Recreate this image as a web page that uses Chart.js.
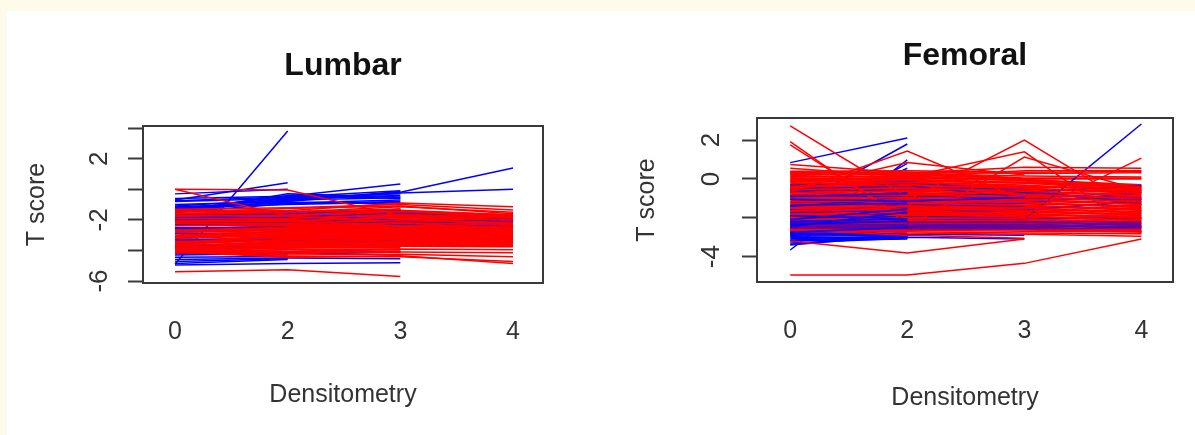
<!DOCTYPE html>
<html>
<head>
<meta charset="utf-8">
<script src="https://cdn.jsdelivr.net/npm/chart.js@4"></script>
<style>
html, body { margin: 0; padding: 0; width: 1195px; height: 435px; overflow: hidden; background: #fffbeb; }
#card { position: absolute; left: 7px; top: 11px; width: 1188px; height: 424px; background: #fff; }
canvas { position: absolute; top: 0; filter: blur(0.45px); }
#lumbar { left: 0; }
#femoral { left: 600px; }
</style>
</head>
<body>
<div id="card"></div>
<canvas id="lumbar" width="600" height="435"></canvas>
<canvas id="femoral" width="595" height="435"></canvas>
<script>
// visits are evenly spaced on the axis, whatever their label says
var positions = [0, 1, 2, 3];
var xTickLabels = ["0", "2", "3", "4"];

var lumbarYTicks = [-6, -4, -2, 0, 2, 4];
var lumbarYLabels = ["-6", "", "-2", "", "2", ""];
var femoralYTicks = [-4, -2, 0, 2];
var femoralYLabels = ["-4", "", "0", "2"];

// each row is one patient
var lumbarBlueLow = [
	[-4.9, 3.81], [-0.7, 0.43], [-0.3, 0], [-0.6, -0.45, 0.35], [-0.75, -0.5, -0.1],
	[-0.8, -0.6, -0.4], [-1, -0.8, -0.2, 1.39], [-1.1, -0.65, -0.25, 0], [-1.15, -0.9, -0.7],
	[-1.25, -0.7, -0.55], [-1.3, -0.85, -0.95], [-1.2, -1, -0.85], [-1.4, -0.4, -0.6], [-1.35, -0.55, -0.3],
	[-1.45, -0.75, -0.15], [-1.5, -0.95, -0.8], [-1.55, -0.3, -0.5],
	[-2.5, -2.6], [-2.9, -2.85], [-3.3, -3.2, -3], [-3.75, -3.6], [-4.2, -4.3], [-4.3, -4.2, -4.1],
	[-4.45, -4.4], [-4.6, -4.5, -4.55], [-4.72, -4.55], [-4.85, -4.6], [-4.95, -4.85, -4.8]
];
var lumbarRedUnder = [
	[-1.65, -1.6, -1.4, -1.7], [-1.85, -1.8, -1.55, -1.8],
	[-2, -2, -1.75, -1.95], [-2.15, -2.15, -1.95, -2.1], [-2.3, -2.3, -2.1, -2.25], [-2.62, -2.45, -2.3, -2.4],
	[-2.75, -2.6, -2.45, -2.55], [-3.02, -2.75, -2.6, -2.7], [-3.15, -2.9, -2.75, -2.85], [-3.42, -3.05, -2.9, -3],
	[-3.55, -3.2, -3.05, -3.15], [-3.85, -3.35, -3.2, -3.3], [-3.9, -3.5, -3.35, -3.45], [-4, -3.65, -3.5, -3.6],
	[-3.95, -3.75, -3.65, -3.7]
];
var lumbarBlueMid = [
	[-1.8, -1.9, -1.55, -1.95], [-1.9, -1.55, -2.05, -2.1], [-2.1, -2.2, -2.1, -2.45], [-2.3, -2.15],
	[-3.3, -3.3, -3.4], [-3.8, -3.85], [-3.95, -4.15, -4.3], [-1.6, -1.45, -1.35], [-1.75, -1.6, -1.3],
	[-2.6, -2.4], [-3.6, -3.9, -4.1], [-2, -1.85, -2.3, -1.95]
];
var lumbarRedOver = [
	[-1.58, -1.5, -1.3], [-1.75, -1.7, -1.45, -1.7], [-1.92, -1.9, -1.65, -1.88], [-2.08, -2.07, -1.85, -2.02],
	[-2.22, -2.23, -2.03, -2.18], [-2.38, -2.38, -2.2, -2.33], [-2.68, -2.52, -2.38, -2.48], [-2.82, -2.68, -2.52, -2.62],
	[-3.08, -2.82, -2.68, -2.78], [-3.22, -2.98, -2.82, -2.93], [-3.48, -3.12, -2.98, -3.08], [-3.6, -3.28, -3.12, -3.22],
	[-3.7, -3.42, -3.28, -3.38], [-3.8, -3.58, -3.42, -3.52], [-3.88, -3.72, -3.58, -3.65], [-3.98, -3.8, -3.72, -3.75],
	[-4.05, -3.82, -3.82], [-4.1, -3.95, -3.95], [-4.15, -4.1, -4.05]
];
// thin red patients that stay readable as single lines
var lumbarRedLines = [
	[0, -0.05, -1.75], [0, -1.75, -1.3], [-1.35, -1.4, -0.9, -1.15], [-1.3, -1.2, -1, -1.35], [-1.42, -1.5, -1.15, -1.5],
	[-1.5, -1.25, -1.1, -1.6], [-3.9, -4.05, -3.9, -3.95], [-3.95, -4.2, -4.1, -4.15], [-4, -4.3, -4.25, -4.42],
	[-4.05, -4.4, -4.42, -4.72], [-4.1, -4.45, -4.35, -4.85], [-5.4, -5.27, -5.7]
];

var femoralBlueLow = [
	[0.84, 2.11], [-1.55, 1.8], [-3.66, 0.98], [-2.6, 0.8], [-2.3, 0.55], [-2.9, 0.3],
	[-2.7, -2.95], [-2.75, -2.88], [-2.8, -3], [-2.85, -2.8], [-2.9, -2.85], [-2.95, -2.92], [-3, -3.05], [-3.08, -2.95],
	[-3.14, -2.98], [-3.18, -3.1], [-3.3, -3.05], [-3.36, -2.9], [-3.4, -2.9], [-3.2, -3, -3.1], [-2.6, -2.85, -2.9]
];
var femoralRedUnder = [
	[0.33, 0.32, 0.02, 0.02], [0, 0.05, -0.05, -0.32], [-0.15, -0.1, -0.2, -0.4],
	[-0.32, -0.25, -0.4, -0.5], [-0.48, -0.4, -0.55, -0.65], [-0.65, -0.55, -0.7, -0.8], [-0.8, -0.72, -0.85, -0.95],
	[-0.95, -0.88, -0.98, -1.1], [-1.1, -1.03, -1.12, -1.25], [-1.27, -1.18, -1.27, -1.4], [-1.42, -1.32, -1.42, -1.55],
	[-1.58, -1.47, -1.55, -1.7], [-1.72, -1.62, -1.7, -1.82], [-1.88, -1.78, -1.85, -1.95], [-2.02, -1.92, -2, -2.08],
	[-2.18, -2.08, -2.12, -2.2], [-2.32, -2.22, -2.25, -2.35], [-2.48, -2.35, -2.4, -2.48], [-2.62, -2.5, -2.55, -2.62]
];
var femoralBlueMid = [
	[-2.05, -1.75], [-1.8, -1.5], [-2.2, -1.9, -2.05], [-2.4, -1.6], [-1.9, -2.4, -2.5], [-0.6, -0.5, -0.45],
	[-0.85, -0.9, -1], [-1.2, -1.1, -1, -1.05], [-1.45, -0.9, -0.75, -1], [-1.9, -2, -2.1, 2.83], [-0.3, -0.15, -0.7, -0.35],
	[-0.55, -0.35, -0.95], [-1.05, -1.3, -1.25, -0.7], [-2.3, -2.15, -2.05, -2], [-1.6, -1.7, -1.6, -1.15],
	[-0.4, -0.7], [-1.75, -1.3, -1.45], [-0.7, -0.2, -0.6, -1.3]
];
var femoralRedOver = [
	[0.25, 0.22, -0.02, -0.42], [0.1, 0.15, -0.1, -0.5], [-0.08, -0.02, -0.2, -0.58], [-0.24, -0.18, -0.32, -0.66],
	[-0.4, -0.32, -0.48, -0.74], [-0.56, -0.48, -0.62, -0.88], [-0.72, -0.63, -0.78, -1.02], [-0.88, -0.8, -0.92, -1.18],
	[-1.02, -0.95, -1.05, -1.32], [-1.18, -1.1, -1.2, -1.48], [-1.35, -1.25, -1.35, -1.62], [-1.5, -1.4, -1.48, -1.76],
	[-1.65, -1.55, -1.62, -1.88], [-1.8, -1.7, -1.78, -2.02], [-1.95, -1.85, -1.92, -2.14], [-2.1, -2, -2.06, -2.28],
	[-2.25, -2.15, -2.18, -2.42], [-2.4, -2.28, -2.32, -2.55], [-2.55, -2.42, -2.48, -2.68], [-2.65, -2.58, -2.62, -2.72]
];
var femoralRedLines = [
	[2.73, -0.93], [1.92, -2.3], [1.75, -2.1], [-0.7, 1.44, -1.1], [-0.5, 0.85, 0.2],
	[-1.5, -1.1, 2, -1.65], [-0.5, 0.1, 1.4, -2.8], [-2, -2.5, 1.13, -0.6], [-1.5, -1.6, -1.85, 1.07],
	[0.75, 0.3, 0.6, 0.55], [0.55, 0.12, 0.42, 0.42], [0.4, 0.42, 0.35, 0.38], [0.3, 0.35, 0.28, 0.32],
	[0.18, 0.28, 0.15, 0.1], [-2.7, -2.65, -2.7, -2.72], [-2.72, -2.72, -2.78, -2.82], [-2.4, -2.78, -2.85, -2.95],
	[-2.6, -2.9, -3.05], [-3.2, -3.82, -3.1], [-4.95, -4.95, -4.35, -3.1]
];
var femoralBlueTop = [
	[-1.9, -2.05], [-2.2, -2.05], [-1.05, -1.15, -0.95], [-2.45, -1.7], [-0.9, -0.75], [-2.75, -2.5],
	[-2.1, -1.55], [-2.35, -2.15], [-1.35, -1.25]
];
// seen as a purple band through the lower part of the red mass
var femoralBluePurple = [
	[-2.3, -2.38, -2.35, -2.35], [-2.42, -2.46, -2.45, -2.45], [-2.52, -2.55, -2.55, -2.52], [-2.2, -2.25, -2.22, -2.25]
];

function rowsToDatasets(rows, color, width) {
	return rows.map(function(row) {
		return { data: row, borderColor: color, borderWidth: width, pointRadius: 0, tension: 0, fill: false };
	});
}

// chart.js paints the first dataset last, so reverse to keep the listed order
function buildDatasets(layers) {
	var out = [];
	layers.forEach(function(l) {
		out = out.concat(rowsToDatasets(l[0], l[1], l[2]));
	});
	return out.reverse();
}

var plotBox = {
	id: "plotBox",
	afterDatasetsDraw: function(chart) {
		var a = chart.chartArea, c = chart.ctx;
		c.save();
		c.strokeStyle = "#3a3a3a";
		c.lineWidth = 2;
		c.strokeRect(a.left, a.top, a.right - a.left, a.bottom - a.top);
		c.restore();
	}
};

function panel(id, cfg) {
	return new Chart(document.getElementById(id), {
		type: "line",
		data: { labels: positions, datasets: cfg.datasets },
		plugins: [plotBox],
		options: {
			responsive: false,
			animation: false,
			layout: { padding: { right: cfg.padRight } },
			plugins: {
				legend: { display: false },
				tooltip: { enabled: false },
				title: {
					display: true,
					text: cfg.title,
					fullSize: false,
					color: "#111",
					font: { family: "Liberation Sans", size: 32, weight: "bold" },
					padding: { top: cfg.titleTop, bottom: cfg.titleBottom }
				}
			},
			scales: {
				x: {
					type: "linear",
					min: cfg.xMin,
					max: cfg.xMax,
					afterBuildTicks: function(s) {
						s.ticks = positions.map(function(p) { return { value: p }; });
					},
					afterFit: function(s) { s.height = cfg.xHeight; },
					grid: { display: false },
					border: { display: false },
					ticks: {
						autoSkip: false, maxRotation: 0, padding: 26, color: "#333",
						font: { family: "Liberation Sans", size: 25 },
						callback: function(v) { return xTickLabels[positions.indexOf(v)]; }
					},
					title: {
						display: true, text: "Densitometry", color: "#333",
						font: { family: "Liberation Sans", size: 25 },
						padding: { top: 0, bottom: cfg.xTitleBottom }
					}
				},
				y: {
					min: cfg.yMin,
					max: cfg.yMax,
					afterBuildTicks: function(s) {
						s.ticks = cfg.yTicks.map(function(v) { return { value: v }; });
					},
					afterFit: function(s) { s.width = cfg.yWidth; },
					grid: { drawOnChartArea: false, tickLength: 15, tickColor: "#3a3a3a", tickWidth: 2 },
					border: { display: false },
					ticks: {
						autoSkip: false, minRotation: 90, maxRotation: 90, crossAlign: "center",
						padding: cfg.yPad, color: "#333",
						font: { family: "Liberation Sans", size: 26 },
						callback: function(v) { return cfg.yLabels[cfg.yTicks.indexOf(v)]; }
					},
					title: {
						display: true, text: "T score", color: "#333",
						font: { family: "Liberation Sans", size: 25 },
						padding: { top: cfg.yTitleLeft, bottom: 0 }
					}
				}
			}
		}
	});
}

panel("lumbar", {
	title: "Lumbar", titleTop: 47, titleBottom: 40.6,
	datasets: buildDatasets([
		[lumbarBlueLow, "#0000ff", 1.5], [lumbarRedUnder, "#ff0000", 2.4], [lumbarBlueMid, "#0000ff", 1.5],
		[lumbarRedOver, "#ff0000", 1.9], [lumbarRedLines, "#ff0000", 1.5]
	]),
	padRight: 57, xMin: -0.284, xMax: 3.266, xHeight: 152, xTitleBottom: 25,
	yMin: -6.13, yMax: 4.14, yTicks: lumbarYTicks, yLabels: lumbarYLabels,
	yWidth: 143, yPad: 17, yTitleLeft: 22
});

panel("femoral", {
	title: "Femoral", titleTop: 37, titleBottom: 42.6,
	datasets: buildDatasets([
		[femoralBlueLow, "#0000ff", 1.5], [femoralRedUnder, "#ff0000", 2.4], [femoralBlueMid, "#0000ff", 1.5],
		[femoralRedOver, "#ff0000", 1.9], [femoralRedLines, "#ff0000", 1.5], [femoralBlueTop, "#0000ff", 1.5],
		[femoralBluePurple, "rgba(0,0,255,0.6)", 2]
	]),
	padRight: 22, xMin: -0.284, xMax: 3.27, xHeight: 153, xTitleBottom: 22,
	yMin: -5.31, yMax: 3.14, yTicks: femoralYTicks, yLabels: femoralYLabels,
	yWidth: 157, yPad: 19, yTitleLeft: 32
});
</script>
</body>
</html>
